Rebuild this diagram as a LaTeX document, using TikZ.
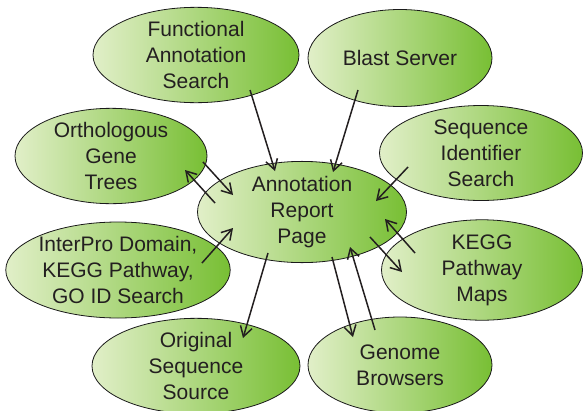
\documentclass[tikz,border=0pt]{standalone}
\usepackage{fontspec}
\setmainfont{Liberation Sans}
\usepackage{xcolor}
\definecolor{textcolor}{HTML}{231f20}
\definecolor{bubblelight}{HTML}{e1efc8}
\definecolor{bubbledark}{HTML}{78bf34}
\definecolor{bubbleborder}{HTML}{1a1a1a}
\usetikzlibrary{arrows.meta,shapes.geometric,calc}
\tikzset{
    bubble/.style={
        ellipse,
        draw=bubbleborder,
        left color=bubblelight,
        right color=bubbledark,
        text=textcolor,
        minimum width=206pt,
        minimum height=95pt,
        inner sep=0pt,
        align=center,
        line width=0.8pt,
        font=\fontsize{21}{26}\selectfont,
    },
    link/.style={
        -{Straight Barb[length=10pt,width=12pt,line width=1.5pt]},
        line width=1.5pt,
        textcolor,
    },
}

\begin{document}
\begin{tikzpicture}[x=1pt,y=-1pt]
    \useasboundingbox (0,0) rectangle (586,410);

    % Central page
    \node[bubble, minimum width=209pt] (report) at (302,212) {Annotation\\Report\\Page};

    % Surrounding tools
    \node[bubble] (func) at (196,55) {Functional\\Annotation\\Search};
    \node[bubble, minimum width=184pt, minimum height=97pt] (blast) at (400,58) {Blast Server};
    \node[bubble, minimum width=192pt] (ortho) at (111,156) {Orthologous\\Gene\\Trees};
    \node[bubble, minimum width=203pt] (seqid) at (481,153) {Sequence\\Identifier\\Search};
    \node[bubble, minimum width=205pt, minimum height=96pt] (interpro) at (118,270) {InterPro Domain,\\KEGG Pathway,\\GO ID Search};
    \node[bubble, minimum width=201pt] (kegg) at (482,270) {KEGG\\Pathway\\Maps};
    \node[bubble, minimum width=208pt] (orig) at (196,366) {Original\\Sequence\\Source};
    \node[bubble, minimum width=184pt, minimum height=96pt] (genome) at (400,365) {Genome\\Browsers};

    % Links into the report page
    \draw[link] ($(func)+(54,35)$) -- ($(report)+(-27,-41)$);
    \draw[link] ($(blast)+(-42,32)$) -- ($(report)+(31,-40)$);
    \draw[link] ($(ortho)+(92,6)$) -- ($(report)+(-69,-17)$);
    \draw[link] ($(report)+(-87,-9)$) -- ($(ortho)+(74,14)$);
    \draw[link] ($(seqid)+(-73,14)$) -- ($(report)+(74,-11)$);
    \draw[link] ($(interpro)+(84,-7)$) -- ($(report)+(-69,16)$);
    \draw[link] ($(kegg)+(-67,-17)$) -- ($(report)+(83,7)$);
    \draw[link] ($(report)+(68,25)$) -- ($(kegg)+(-80,2)$);

    % Links out of the report page
    \draw[link] ($(report)+(-34,41)$) -- ($(orig)+(47,-28)$);
    \draw[link] ($(report)+(30,45)$) -- ($(genome)+(-47,-28)$);
    \draw[link] ($(genome)+(-25,-35)$) -- ($(report)+(48,35)$);

\end{tikzpicture}
\end{document}
